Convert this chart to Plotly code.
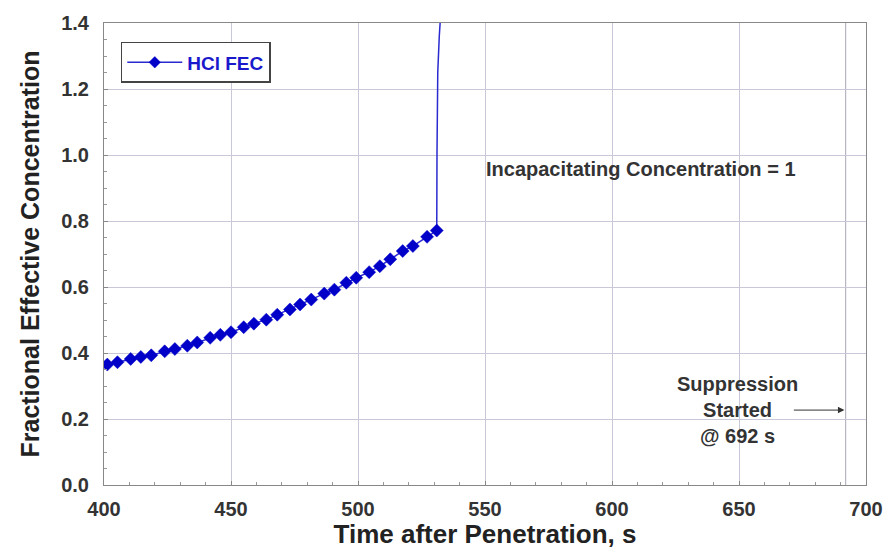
import plotly.graph_objects as go

# Measured HCl FEC points (marked)
time_s = [401.3, 405.3, 410.5, 414.5, 418.6, 423.9, 427.9, 432.8, 436.7, 441.8,
          445.8, 450.0, 455.0, 459.0, 463.9, 468.2, 473.2, 477.2, 481.6, 486.7,
          490.7, 495.4, 499.3, 504.4, 508.6, 512.7, 517.6, 521.6, 527.2, 531.0]
fec = [0.365, 0.372, 0.382, 0.388, 0.393, 0.405, 0.412, 0.422, 0.432, 0.446,
       0.455, 0.463, 0.478, 0.489, 0.501, 0.516, 0.532, 0.547, 0.562, 0.580,
       0.592, 0.613, 0.628, 0.645, 0.663, 0.684, 0.709, 0.724, 0.752, 0.771]
# Continuation of the curve after the last marked point (sharp rise)
spike_time = [531.1, 531.4, 532.0, 533.0]
spike_fec = [1.00, 1.25, 1.36, 1.48]

x_ticks = [400, 450, 500, 550, 600, 650, 700]
y_ticks = [0.0, 0.2, 0.4, 0.6, 0.8, 1.0, 1.2, 1.4]
suppression_time = 692

FONT = "Liberation Sans, Arial"
all_t = time_s + spike_time
all_y = fec + spike_fec
sizes = [10] * len(time_s) + [0] * len(spike_time)

fig = go.Figure()
fig.add_trace(go.Scatter(
    x=all_t, y=all_y, mode="lines+markers", name="<b>HCl FEC</b>",
    line=dict(color="#2a2ad0", width=1.5),
    marker=dict(symbol="diamond", size=sizes, color="#0000c8", opacity=1,
                line=dict(width=0.5, color="#0000c8")),
))

fig.add_shape(type="line", x0=suppression_time, x1=suppression_time, y0=0, y1=1.4,
              xref="x", yref="y", line=dict(color="#a8a8b8", width=1), layer="below")

fig.add_annotation(x=611.5, y=0.958, xref="x", yref="y", showarrow=False,
                   text="<b>Incapacitating Concentration = 1</b>",
                   font=dict(family=FONT, size=20, color="#333333"))
fig.add_annotation(x=649.5, y=0.227, xref="x", yref="y", showarrow=False,
                   text="<b>Suppression<br>Started<br>@ 692 s</b>",
                   font=dict(family=FONT, size=20, color="#333333"),
                   align="center")
fig.add_annotation(x=691.5, y=0.227, ax=671, ay=0.227, xref="x", yref="y",
                   axref="x", ayref="y", showarrow=True, text="",
                   arrowhead=2, arrowsize=1.3, arrowwidth=1, arrowcolor="#333333")

tick_font = dict(family=FONT, size=20, color="#333333")
fig.update_layout(
    width=887, height=549,
    margin=dict(l=104, r=21, t=23, b=64, autoexpand=False),
    paper_bgcolor="white", plot_bgcolor="white",
    showlegend=True,
    legend=dict(x=0.022, y=0.959, xanchor="left", yanchor="top",
                bordercolor="#444444", borderwidth=1.5, bgcolor="white",
                font=dict(family=FONT, size=19, color="#1a1acc"),
                itemwidth=55),
    font=dict(family=FONT),
)
fig.update_xaxes(
    range=[400, 700], tickvals=x_ticks, ticktext=[f"<b>{v}</b>" for v in x_ticks],
    tickfont=tick_font, showgrid=True, gridcolor="#c8c8d8", gridwidth=1,
    showline=True, linecolor="#888888", linewidth=1, mirror=True,
    ticks="inside", ticklen=4, tickcolor="#888888", ticklabelstandoff=6,
    minor=dict(dtick=10, ticks="inside", ticklen=3, tickcolor="#999999", showgrid=False),
    zeroline=False, automargin=False,
    title=dict(text="<b>Time after Penetration, s</b>", standoff=2,
               font=dict(family=FONT, size=26, color="#222222")),
)
fig.update_yaxes(
    range=[0, 1.4], tickvals=y_ticks, ticktext=[f"<b>{v:.1f}</b>" for v in y_ticks],
    tickfont=tick_font, showgrid=True, gridcolor="#c8c8d8", gridwidth=1,
    showline=True, linecolor="#888888", linewidth=1, mirror=True,
    ticks="inside", ticklen=4, tickcolor="#888888", ticklabelstandoff=10,
    minor=dict(dtick=0.05, ticks="inside", ticklen=3, tickcolor="#999999", showgrid=False),
    zeroline=False, automargin=False,
    title=dict(text="<b>Fractional Effective Concentration</b>", standoff=14,
               font=dict(family=FONT, size=25, color="#222222")),
)

fig.write_html("out.html",
               config={"displayModeBar": False},
               post_script="document.body.style.margin='0px';"
                           "document.body.style.overflow='hidden';")
